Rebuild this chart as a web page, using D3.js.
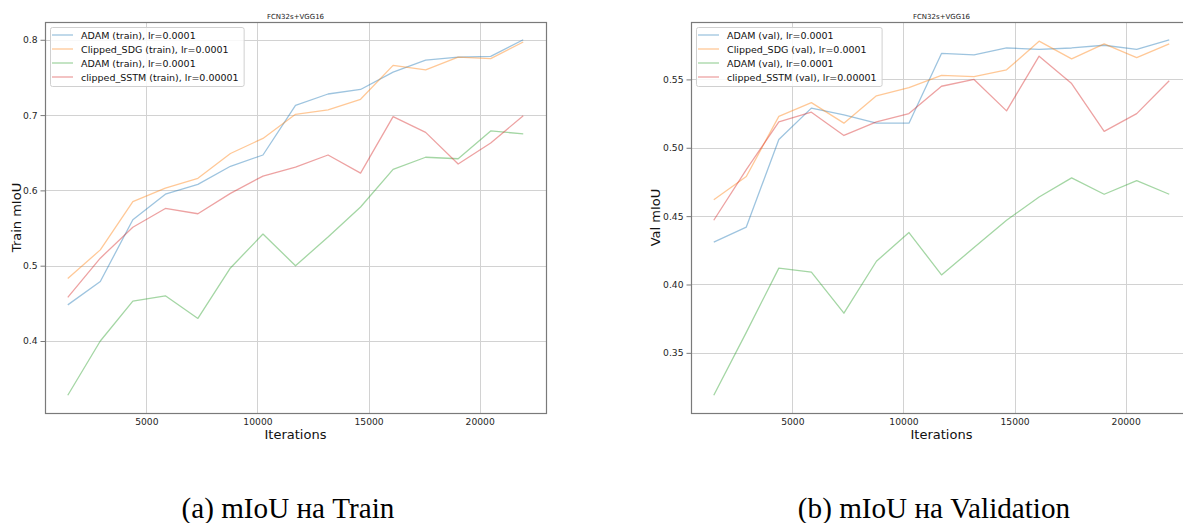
<!DOCTYPE html>
<html><head><meta charset="utf-8">
<script src="https://cdn.jsdelivr.net/npm/d3@7"></script>
<style>
html,body{margin:0;padding:0;background:#fff;overflow:hidden;}
svg{display:block;}
</style></head>
<body>
<svg id="chart" width="1183" height="523"></svg>
<script>
// ---------- data ----------
const iterations = [1464, 2928, 4392, 5856, 7320, 8784, 10248, 11712, 13176, 14640, 16104, 17568, 19032, 20496, 21960];
const xTicks = [5000, 10000, 15000, 20000];
const yTicksTrain = [0.4, 0.5, 0.6, 0.7, 0.8];
const yTicksVal = [0.35, 0.40, 0.45, 0.50, 0.55];

const trainAdam = [0.448, 0.479, 0.561, 0.595, 0.608, 0.632, 0.647, 0.713, 0.728, 0.734, 0.757, 0.773, 0.777, 0.778, 0.800];
const trainClippedSDG = [0.483, 0.521, 0.585, 0.603, 0.616, 0.649, 0.669, 0.701, 0.707, 0.721, 0.766, 0.760, 0.777, 0.775, 0.797];
const trainAdam2 = [0.328, 0.400, 0.453, 0.460, 0.430, 0.497, 0.542, 0.500, 0.538, 0.578, 0.628, 0.644, 0.642, 0.679, 0.675];
const trainSSTM = [0.458, 0.510, 0.551, 0.576, 0.569, 0.596, 0.619, 0.631, 0.647, 0.623, 0.698, 0.677, 0.635, 0.663, 0.699];

const valAdam = [0.431, 0.442, 0.506, 0.529, 0.524, 0.518, 0.518, 0.569, 0.568, 0.573, 0.572, 0.573, 0.575, 0.572, 0.579];
const valClippedSDG = [0.462, 0.479, 0.523, 0.533, 0.518, 0.538, 0.544, 0.553, 0.552, 0.557, 0.578, 0.565, 0.576, 0.566, 0.576];
const valAdam2 = [0.319, 0.365, 0.412, 0.409, 0.379, 0.417, 0.438, 0.407, 0.427, 0.447, 0.464, 0.478, 0.466, 0.476, 0.466];
const valSSTM = [0.447, 0.484, 0.519, 0.526, 0.509, 0.519, 0.525, 0.545, 0.550, 0.527, 0.567, 0.547, 0.512, 0.525, 0.549];

const trainLabels = ["ADAM (train), lr=0.0001", "Clipped_SDG (train), lr=0.0001", "ADAM (train), lr=0.0001", "clipped_SSTM (train), lr=0.00001"];
const valLabels = ["ADAM (val), lr=0.0001", "Clipped_SDG (val), lr=0.0001", "ADAM (val), lr=0.0001", "clipped_SSTM (val), lr=0.00001"];
const seriesColors = ["#1f77b4", "#ff7f0e", "#2ca02c", "#d62728"];

const chartTitle = "FCN32s+VGG16";
const captions = ["(a) mIoU на Train", "(b) mIoU на Validation"];

// ---------- drawing ----------
const svg = d3.select("#chart");
const FONT = "'DejaVu Sans', sans-serif";

function panel(opt) {
  const {x0, x1, y0, y1, series, labels, yTicks, yFmt, yLabel, yLabelX} = opt;
  const g = svg.append("g");
  const xmin = d3.min(iterations), xmax = d3.max(iterations);
  const xm = (xmax - xmin) * 0.05;
  const x = d3.scaleLinear().domain([xmin - xm, xmax + xm]).range([x0, x1]);
  const allY = series.flat();
  const ymin = d3.min(allY), ymax = d3.max(allY);
  const ym = (ymax - ymin) * 0.05;
  const y = d3.scaleLinear().domain([ymin - ym, ymax + ym]).range([y1, y0]);

  // grid
  g.append("g").selectAll("line").data(xTicks).join("line")
    .attr("x1", d => Math.round(x(d)) + 0.5).attr("x2", d => Math.round(x(d)) + 0.5)
    .attr("y1", y0).attr("y2", y1)
    .attr("stroke", "#d2d2d2").attr("stroke-width", 1);
  g.append("g").selectAll("line").data(yTicks).join("line")
    .attr("y1", d => Math.round(y(d)) + 0.5).attr("y2", d => Math.round(y(d)) + 0.5)
    .attr("x1", x0).attr("x2", x1)
    .attr("stroke", "#d2d2d2").attr("stroke-width", 1);

  // lines
  const line = d3.line().x((d, i) => x(iterations[i])).y(d => y(d));
  series.forEach((s, k) => {
    g.append("path").datum(s).attr("d", line)
      .attr("fill", "none").attr("stroke", seriesColors[k])
      .attr("stroke-opacity", 0.43).attr("stroke-width", 1.3)
      .attr("stroke-linejoin", "round");
  });

  // spines
  g.append("rect").attr("x", x0 + 0.5).attr("y", y0 + 0.5)
    .attr("width", x1 - x0).attr("height", y1 - y0)
    .attr("fill", "none").attr("stroke", "#7a7a7a").attr("stroke-width", 1.2);

  // axes
  const xa = g.append("g").attr("transform", `translate(0,${y1})`)
    .call(d3.axisBottom(x).tickValues(xTicks).tickSize(0).tickPadding(5).tickFormat(d3.format("d")));
  xa.select(".domain").remove();
  xa.selectAll("text").attr("font-family", FONT).attr("font-size", 9.2).attr("fill", "#262626");

  const ya = g.append("g").attr("transform", `translate(${x0},0)`)
    .call(d3.axisLeft(y).tickValues(yTicks).tickSize(4.5).tickPadding(3).tickFormat(d3.format(yFmt)));
  ya.select(".domain").remove();
  ya.selectAll("line").attr("stroke", "#7a7a7a");
  ya.selectAll("text").attr("font-family", FONT).attr("font-size", 9.2).attr("fill", "#262626");

  // title
  g.append("text").attr("x", (x0 + x1) / 2).attr("y", 18.5)
    .attr("text-anchor", "middle").attr("font-family", FONT).attr("font-size", 7).attr("fill", "#222")
    .text(chartTitle);

  // axis labels
  g.append("text").attr("x", (x0 + x1) / 2).attr("y", 438.5)
    .attr("text-anchor", "middle").attr("font-family", FONT).attr("font-size", 13).attr("fill", "#111")
    .text("Iterations");
  g.append("text").attr("transform", `translate(${yLabelX},${(y0 + y1) / 2}) rotate(-90)`)
    .attr("text-anchor", "middle").attr("font-family", FONT).attr("font-size", 13).attr("fill", "#111")
    .text(yLabel);

  // legend
  const lg = g.append("g");
  const lx = x0 + 5, ly = y0 + 5;
  const rowH = 14;
  const texts = lg.selectAll("text").data(labels).join("text")
    .attr("x", lx + 31).attr("y", (d, i) => ly + 11.5 + i * rowH)
    .attr("font-family", FONT).attr("font-size", 9.5).attr("fill", "#111")
    .text(d => d);
  let maxW = 0;
  texts.each(function () { maxW = Math.max(maxW, this.getComputedTextLength()); });
  lg.insert("rect", "text").attr("x", lx + 0.5).attr("y", ly + 0.5)
    .attr("width", 31 + maxW + 5).attr("height", 4 * rowH + 3)
    .attr("rx", 2).attr("fill", "#fff").attr("fill-opacity", 0.85)
    .attr("stroke", "#d0d0d0").attr("stroke-width", 1);
  lg.selectAll("line").data(labels).join("line")
    .attr("x1", lx + 2).attr("x2", lx + 23)
    .attr("y1", (d, i) => ly + 8 + i * rowH).attr("y2", (d, i) => ly + 8 + i * rowH)
    .attr("stroke", (d, i) => seriesColors[i]).attr("stroke-opacity", 0.43).attr("stroke-width", 1.3);
}

panel({x0: 45, x1: 546, y0: 22, y1: 413,
  series: [trainAdam, trainClippedSDG, trainAdam2, trainSSTM], labels: trainLabels,
  yTicks: yTicksTrain, yFmt: ".1f", yLabel: "Train mIoU", yLabelX: 21});
panel({x0: 691, x1: 1192, y0: 22, y1: 413,
  series: [valAdam, valClippedSDG, valAdam2, valSSTM], labels: valLabels,
  yTicks: yTicksVal, yFmt: ".2f", yLabel: "Val mIoU", yLabelX: 660});

// captions
const capFont = "'Liberation Serif', 'DejaVu Serif', serif";
const capA = svg.append("text").attr("x", 288).attr("y", 518)
  .attr("text-anchor", "middle").attr("font-family", capFont)
  .attr("font-size", 24).attr("fill", "#000").text(captions[0]);
const w = capA.node().getComputedTextLength();
const fs = 24 * 213 / w;
capA.attr("font-size", fs);
svg.append("text").attr("x", 934).attr("y", 518)
  .attr("text-anchor", "middle").attr("font-family", capFont)
  .attr("font-size", fs).attr("fill", "#000").text(captions[1]);
</script>
</body></html>
